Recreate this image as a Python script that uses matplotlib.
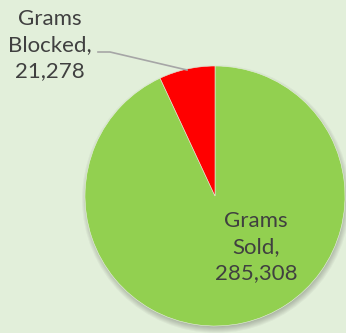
import matplotlib
matplotlib.use("Agg")
import matplotlib.pyplot as plt
from matplotlib.patches import Circle

labels = ["Grams\nSold,\n285,308", "Grams\nBlocked,\n21,278"]
values = [285308, 21278]
colors = ["#92D050", "#FF0000"]

W, H = 346, 333
fig = plt.figure(figsize=(W / 100, H / 100), dpi=100)
fig.patch.set_facecolor("#E2EFDA")
ax = fig.add_axes([0, 0, 1, 1])
ax.set_xlim(0, W)
ax.set_ylim(0, H)
ax.set_aspect("equal")
ax.axis("off")

cx, cy, r = 215, H - 196, 130

# soft shadow
for k in range(8):
    ax.add_patch(Circle((cx + 1, cy - 3), r + 4 - k, color="black", alpha=0.035, lw=0, zorder=1))

wedges, _ = ax.pie(values, colors=colors, startangle=90, counterclock=False,
                   center=(cx, cy), radius=r, frame=True,
                   wedgeprops=dict(edgecolor="#E8F2E0", linewidth=0.4))
for w in wedges:
    w.set_zorder(2)
ax.set_xlim(0, W)
ax.set_ylim(0, H)
ax.axis("off")

font = dict(family=["Lato", "DejaVu Sans"], fontsize=16, color="#404040",
            ha="center", va="center", linespacing=1.38)
ax.text(256, H - 247, labels[0], zorder=3, **font)
ax.text(50, H - 45, labels[1], zorder=3, **font)
ax.plot([98, 110, 187], [H - 52, H - 52, H - 70], color="#A6A6A6", lw=1.2, zorder=3)

fig.savefig("out.png", dpi=100, facecolor=fig.get_facecolor())
